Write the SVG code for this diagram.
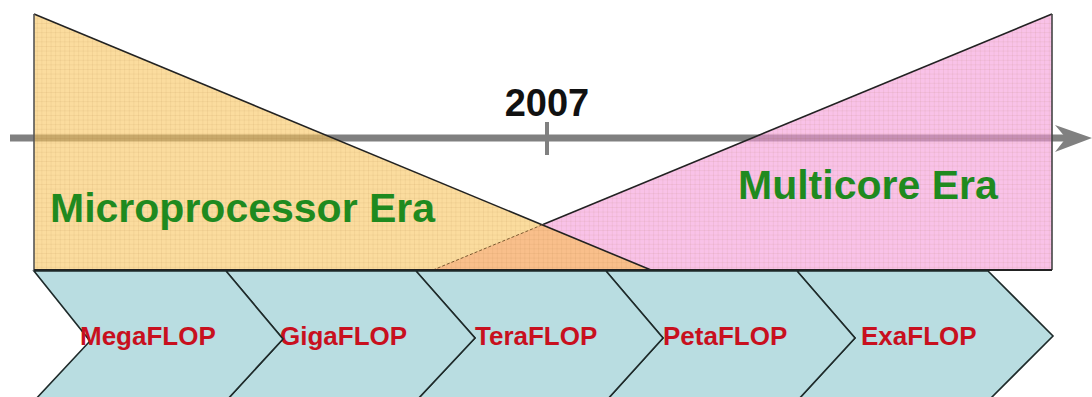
<svg xmlns="http://www.w3.org/2000/svg" width="1092" height="397" viewBox="0 0 1092 397">
<defs>
<style>
.era{font-family:"Liberation Sans",Arial,sans-serif;font-weight:bold;font-size:41px;fill:#1f8a1f}
.flop{font-family:"Liberation Sans",Arial,sans-serif;font-weight:bold;font-size:26px;fill:#c8101e}
.year{font-family:"Liberation Sans",Arial,sans-serif;font-weight:bold;font-size:38px;fill:#111}
.chev{fill:#b9dde1;stroke:#1e2a2a;stroke-width:1.6;stroke-linejoin:miter}
.edge{fill:none;stroke:#222;stroke-width:1.6}
</style>
<pattern id="grid" width="4.6" height="4.6" patternUnits="userSpaceOnUse">
<path d="M0 0.3H4.6M0.3 0V4.6" stroke="#8a5a20" stroke-opacity="0.13" stroke-width="0.7" fill="none"/>
</pattern>
</defs>
<rect width="1092" height="397" fill="#ffffff"/>
<g id="connectors">
<line x1="10" y1="138" x2="1066" y2="138" stroke="#808080" stroke-width="7"/>
<polygon points="1055,125 1092,138 1055,152 1066,138" fill="#808080"/>
<line x1="547" y1="122" x2="547" y2="155" stroke="#808080" stroke-width="4"/>
</g>
<g id="multicore-era">
<polygon points="433,270 1052,14 1052,270" fill="#f599d9" fill-opacity="0.6"/>
<polygon points="433,270 1052,14 1052,270" fill="url(#grid)"/>
<line x1="543" y1="224.5" x2="1052" y2="14" class="edge"/>
<line x1="1052" y1="14" x2="1052" y2="270" stroke="#444" stroke-width="1.6"/>
<text class="era" x="738" y="199">Multicore Era</text>
</g>
<g id="microprocessor-era">
<polygon points="34,14 651,270 34,270" fill="#f8c55d" fill-opacity="0.6"/>
<polygon points="433,270 543,224.5 651,270" fill="#f9bf8b"/>
<polygon points="34,14 651,270 34,270" fill="url(#grid)"/>
<line x1="34" y1="14" x2="651" y2="270" class="edge"/>
<line x1="34" y1="14" x2="34" y2="270" stroke="#555" stroke-width="1.6"/>
<line x1="433" y1="270" x2="543" y2="224.5" stroke="#7a5a30" stroke-width="1" stroke-dasharray="3,2"/>
<text class="era" x="50" y="222">Microprocessor Era</text>
</g>
<line x1="34" y1="270" x2="1052" y2="270" stroke="#222" stroke-width="1.8"/>
<g id="year-2007">
<text class="year" x="547" y="116" text-anchor="middle">2007</text>
</g>
<g id="exaflop">
<polygon class="chev" points="797,271 988,271 1053,336 988,401 797,401 855,338"/>
<text class="flop" x="861" y="345">ExaFLOP</text>
</g>
<g id="petaflop">
<polygon class="chev" points="606,271 797,271 855,338 797,401 606,401 663,338"/>
<text class="flop" x="663" y="345">PetaFLOP</text>
</g>
<g id="teraflop">
<polygon class="chev" points="416,271 606,271 663,338 606,401 416,401 475,338"/>
<text class="flop" x="475" y="345">TeraFLOP</text>
</g>
<g id="gigaflop">
<polygon class="chev" points="226,271 416,271 475,338 416,401 226,401 283,339"/>
<text class="flop" x="280" y="345">GigaFLOP</text>
</g>
<g id="megaflop">
<polygon class="chev" points="34,271 226,271 283,339 226,401 34,401 90,341"/>
<text class="flop" x="80" y="345">MegaFLOP</text>
</g>
</svg>
